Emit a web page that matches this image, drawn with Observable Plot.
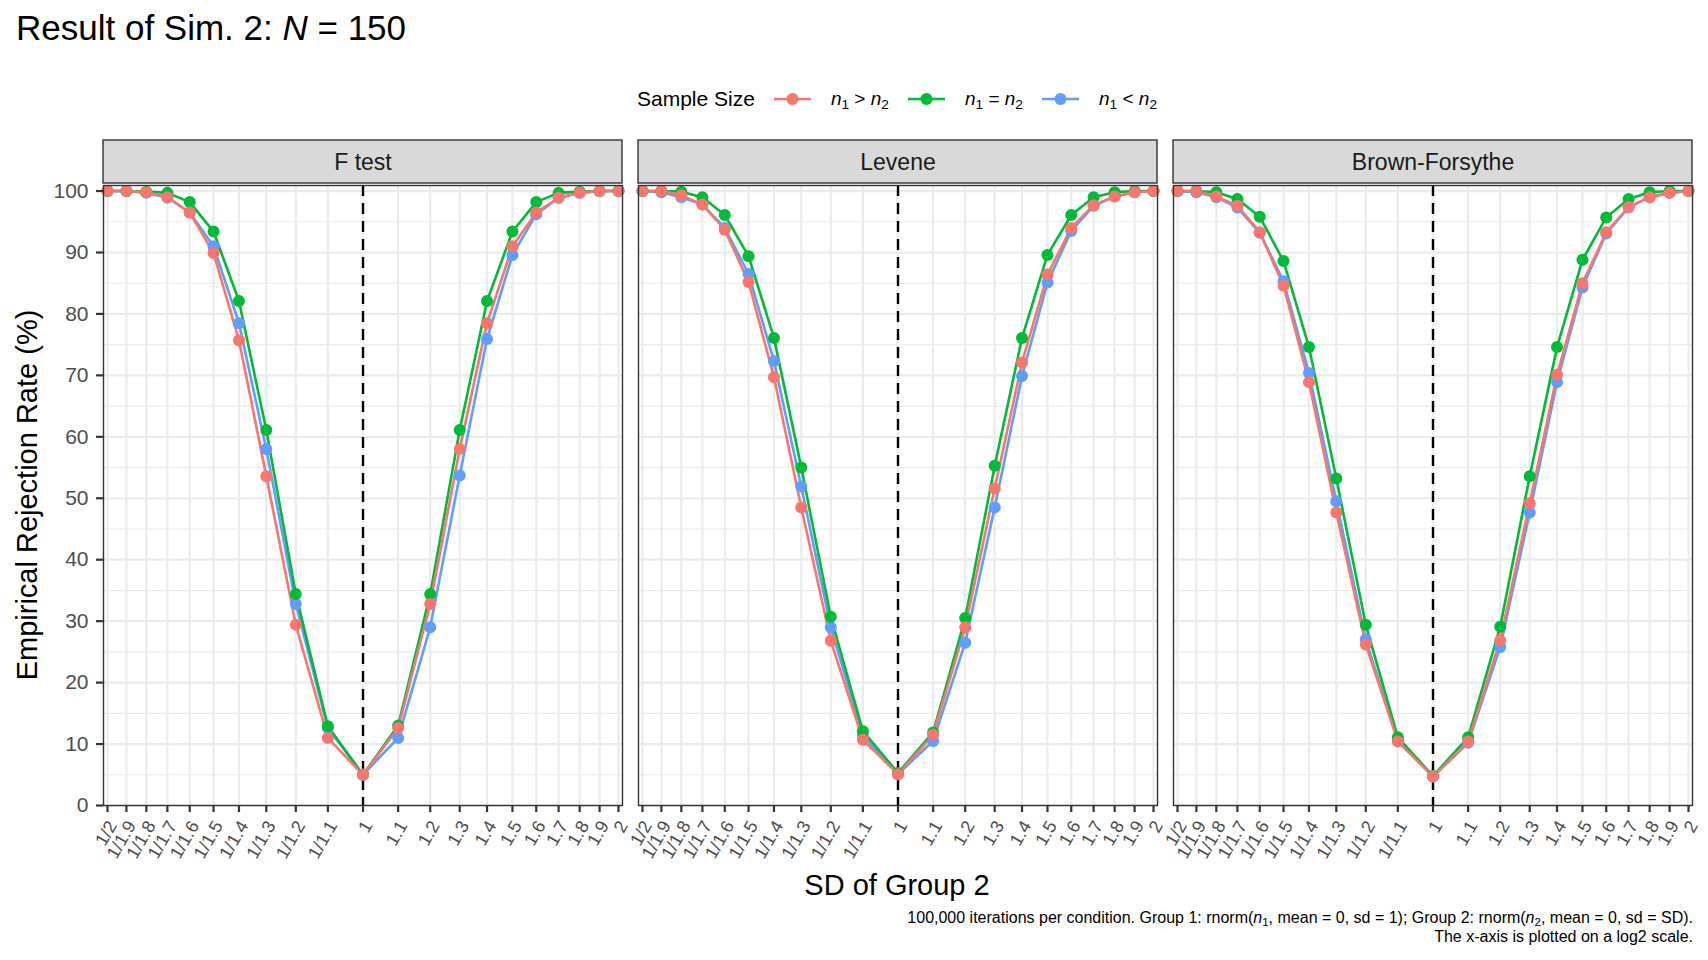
<!DOCTYPE html>
<html>
<head>
<meta charset="utf-8">
<script src="https://cdn.jsdelivr.net/npm/d3@7"></script>
<script src="https://cdn.jsdelivr.net/npm/@observablehq/plot@0.6"></script>
<style>
  html, body { margin: 0; padding: 0; background: #fff; }
  body { width: 1708px; height: 960px; position: relative; overflow: hidden;
         font-family: "Liberation Sans", Arial, sans-serif; color: #000; }
  .abs { position: absolute; white-space: nowrap; }
  sub { font-size: 0.72em; vertical-align: -0.28em; line-height: 0; font-style: normal; }
  #title { left: 16px; top: 10px; font-size: 35px; line-height: 1; }
  #legend { left: 637px; top: 86px; height: 26px; display: flex; align-items: center; font-size: 21px; }
  #legend .lab { font-size: 19px; margin-left: 20px; }
  #legend svg { margin-left: 19px; }
  #ytitle { left: 27px; top: 495px; font-size: 29px; transform: translate(-50%, -50%) rotate(-90deg); }
  #xtitle { left: 897px; top: 885px; font-size: 29px; transform: translate(-50%, -50%); }
  #caption { right: 15px; top: 908px; font-size: 16px; line-height: 19px; text-align: right; }
  #chart { position: absolute; left: 0; top: 0; }
</style>
</head>
<body>
<div id="chart"></div>
<div id="title" class="abs">Result of Sim. 2: <i>N</i> = 150</div>
<div id="legend" class="abs"></div>
<div id="ytitle" class="abs">Empirical Rejection Rate (%)</div>
<div id="xtitle" class="abs">SD of Group 2</div>
<div id="caption" class="abs">100,000 iterations per condition. Group 1: rnorm(<i>n</i><sub>1</sub>, mean = 0, sd = 1); Group 2: rnorm(<i>n</i><sub>2</sub>, mean = 0, sd = SD).<br>The x-axis is plotted on a log2 scale.</div>
<script>
// ---- data ----
const sdLabels = ["1/2","1/1.9","1/1.8","1/1.7","1/1.6","1/1.5","1/1.4","1/1.3","1/1.2","1/1.1","1","1.1","1.2","1.3","1.4","1.5","1.6","1.7","1.8","1.9","2"];
const tests = ["F test", "Levene", "Brown-Forsythe"];
const groups = ["n1 > n2", "n1 = n2", "n1 < n2"];
const groupSymbols = [">", "=", "<"];
const groupColors = ["#F8766D", "#00BA38", "#619CFF"];
const yTicks = [0, 10, 20, 30, 40, 50, 60, 70, 80, 90, 100];
const yMinor = [5, 15, 25, 35, 45, 55, 65, 75, 85, 95];

// F test
const fGreater = [100, 100, 99.8, 99.0, 96.5, 89.9, 75.7, 53.6, 29.4, 11.0, 5.0, 12.6, 32.8, 58.0, 78.5, 91.0, 96.5, 98.9, 99.7, 100, 100];
const fEqual   = [100, 100, 99.9, 99.7, 98.2, 93.4, 82.1, 61.1, 34.4, 12.9, 5.0, 13.0, 34.4, 61.1, 82.1, 93.4, 98.2, 99.7, 99.9, 100, 100];
const fLess    = [100, 100, 99.7, 98.9, 96.5, 91.0, 78.5, 58.0, 32.8, 12.6, 5.0, 11.0, 29.0, 53.7, 75.9, 89.6, 96.2, 98.9, 99.7, 100, 100];
// Levene
const levGreater = [100, 100, 99.3, 97.8, 93.7, 85.2, 69.7, 48.5, 26.8, 10.7, 5.1, 11.5, 29.0, 51.6, 72.1, 86.4, 94.0, 97.7, 99.1, 99.8, 100];
const levEqual   = [100, 100, 99.9, 99.0, 96.1, 89.4, 76.1, 55.0, 30.7, 12.1, 5.3, 11.9, 30.5, 55.3, 76.1, 89.6, 96.1, 99.0, 99.8, 100, 100];
const levLess    = [100, 99.8, 99.0, 97.8, 94.0, 86.5, 72.3, 51.9, 29.0, 11.4, 5.1, 10.5, 26.5, 48.5, 69.9, 85.1, 93.5, 97.6, 99.1, 99.8, 100];
// Brown-Forsythe
const bfGreater = [100, 100, 99.1, 97.6, 93.3, 84.6, 68.9, 47.7, 26.2, 10.4, 4.7, 10.4, 26.9, 49.2, 70.1, 85.0, 93.3, 97.4, 99.0, 99.7, 100];
const bfEqual   = [100, 100, 99.8, 98.7, 95.8, 88.6, 74.6, 53.2, 29.4, 11.1, 4.8, 11.1, 29.1, 53.6, 74.6, 88.8, 95.7, 98.7, 99.8, 100, 100];
const bfLess    = [100, 99.8, 99.0, 97.3, 93.2, 85.3, 70.4, 49.5, 27.0, 10.6, 4.7, 10.2, 25.8, 47.7, 68.9, 84.3, 93.1, 97.3, 99.0, 99.7, 100];

// ---- build table ----
const sdValues = sdLabels.map(s => s.includes("/") ? 1 / +s.split("/")[1] : +s);
const labelOf = new Map(sdValues.map((v, i) => [v, sdLabels[i]]));
const series = {
  "F test": [fGreater, fEqual, fLess],
  "Levene": [levGreater, levEqual, levLess],
  "Brown-Forsythe": [bfGreater, bfEqual, bfLess]
};
const rows = [];
for (const g of [2, 1, 0]) {            // draw order: blue, green, red on top
  for (const t of tests) {
    series[t][g].forEach((rate, i) => rows.push({test: t, group: groups[g], sd: sdValues[i], rate}));
  }
}

const chart = Plot.plot({
  width: 1708,
  height: 960,
  marginTop: 185,
  marginBottom: 155,
  marginLeft: 102,
  marginRight: 15,
  style: {fontFamily: "'Liberation Sans', Arial, sans-serif", background: "transparent", overflow: "visible"},
  fx: {domain: tests, paddingInner: 0.0306, paddingOuter: 0, axis: null, label: null},
  x: {type: "log", base: 2, domain: [0.5, 2], inset: 4},
  y: {domain: [0, 100.9]},
  color: {domain: groups, range: groupColors},
  marks: [
    Plot.gridY(yMinor, {stroke: "#ebebeb", strokeOpacity: 1, strokeWidth: 1.1}),
    Plot.gridY(yTicks, {stroke: "#ebebeb", strokeOpacity: 1, strokeWidth: 2.2}),
    Plot.gridX(sdValues, {stroke: "#ebebeb", strokeOpacity: 1, strokeWidth: 2.2}),
    Plot.ruleX([1], {stroke: "#000", strokeWidth: 2.4, strokeDasharray: "11,7"}),
    Plot.line(rows, {fx: "test", x: "sd", y: "rate", z: "group", stroke: "group", strokeWidth: 2.6}),
    Plot.dot(rows, {fx: "test", x: "sd", y: "rate", fill: "group", r: 6}),
    Plot.frame({stroke: "#333", strokeWidth: 1.4}),
    Plot.rect(tests, {fx: d => d, fill: "#d9d9d9", stroke: "#333", strokeWidth: 1.4, insetTop: -45, insetBottom: 622}),
    Plot.text(tests, {fx: d => d, text: d => d, frameAnchor: "top", lineAnchor: "middle", dy: -23, fontSize: 23, fill: "#1a1a1a"}),
    Plot.axisY(yTicks, {tickSize: 7, tickPadding: 8, fontSize: 21, stroke: "#333", strokeWidth: 2.2, fill: "#4d4d4d", label: null}),
    Plot.axisX(sdValues, {tickSize: 7, tickPadding: 6, fontSize: 18, tickRotate: -60, stroke: "#333", strokeWidth: 2.2, fill: "#4d4d4d", label: null, tickFormat: d => labelOf.get(d)})
  ]
});
document.getElementById("chart").appendChild(chart);

// nudge rotated x tick labels (ggplot hjust = 1, vjust = 1 placement)
d3.select(chart).selectAll('g[aria-label="x-axis tick label"]').each(function() {
  const t = this.getAttribute("transform") || "";
  this.setAttribute("transform", (t + " translate(5,4)").trim());
});

// ---- legend ----
const legend = d3.select("#legend");
legend.append("span").text("Sample Size");
groups.forEach((g, i) => {
  const svg = legend.append("svg").attr("width", 37).attr("height", 20);
  svg.append("line").attr("x1", 0).attr("x2", 37).attr("y1", 10).attr("y2", 10)
     .attr("stroke", groupColors[i]).attr("stroke-width", 2.6);
  svg.append("circle").attr("cx", 18.5).attr("cy", 10).attr("r", 6).attr("fill", groupColors[i]);
  legend.append("span").attr("class", "lab")
     .html(`<i>n</i><sub>1</sub> ${groupSymbols[i] === "<" ? "&lt;" : groupSymbols[i] === ">" ? "&gt;" : "="} <i>n</i><sub>2</sub>`);
});
</script>
</body>
</html>
